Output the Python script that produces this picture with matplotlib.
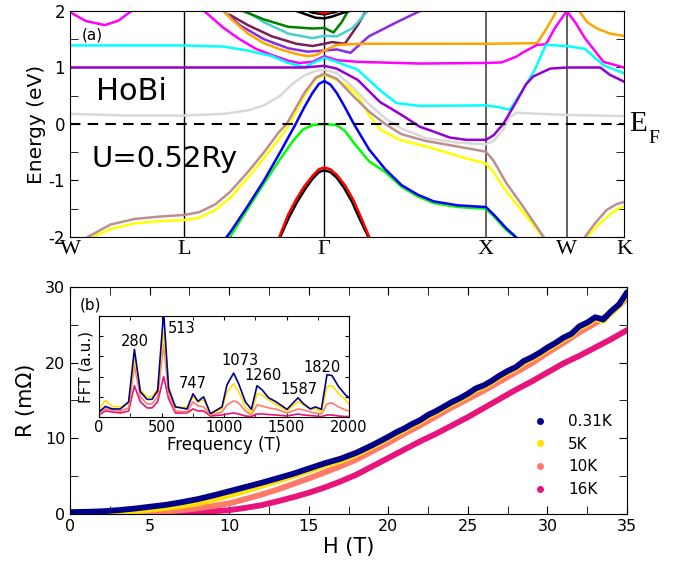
import numpy as np
import matplotlib
matplotlib.use('Agg')
import matplotlib.pyplot as plt
from matplotlib.ticker import MultipleLocator
from matplotlib.lines import Line2D

plt.rc('font', family='DejaVu Sans', size=11)
plt.rc('axes', unicode_minus=False)

# ---- (a) band structure: high-symmetry points (2pi/a)
k_ticks = [0.0, 0.707, 1.573, 2.573, 3.073, 3.427]
k_names = ['W', 'L', r'Γ', 'X', 'W', 'K']

blue_k = [0.969, 1.0, 1.1, 1.2, 1.3, 1.396, 1.45, 1.5, 1.54, 1.573, 1.61, 1.65, 1.7, 1.756, 1.85, 1.95,
          2.05, 2.15, 2.25, 2.4, 2.573, 2.62, 2.7, 2.758]
blue_e = [-2.0, -1.88, -1.45, -1.0, -0.5, 0.0, 0.3, 0.55, 0.71, 0.76, 0.70, 0.55, 0.3, 0.0, -0.45, -0.8,
          -1.08, -1.25, -1.37, -1.44, -1.47, -1.6, -1.85, -2.0]
green_k = [0.99, 1.1, 1.2, 1.3, 1.38, 1.44, 1.5, 1.573, 1.65, 1.7, 1.76, 1.85, 1.95, 2.05, 2.15, 2.25,
           2.4, 2.573, 2.62, 2.7, 2.755]
green_e = [-2.0, -1.5, -1.05, -0.62, -0.3, -0.1, -0.02, 0.0, -0.02, -0.12, -0.35, -0.66, -0.85, -1.11,
           -1.28, -1.40, -1.47, -1.5, -1.63, -1.88, -2.0]
red_k = [1.295, 1.35, 1.40, 1.45, 1.5, 1.54, 1.573, 1.61, 1.65, 1.7, 1.75, 1.80, 1.851]
red_e = [-2.0, -1.6, -1.33, -1.1, -0.92, -0.8, -0.77, -0.8, -0.9, -1.08, -1.33, -1.65, -2.0]
black_k = [1.30, 1.355, 1.405, 1.455, 1.5, 1.54, 1.573, 1.61, 1.65, 1.695, 1.745, 1.795, 1.846]
black_e = [-2.0, -1.65, -1.38, -1.15, -0.97, -0.85, -0.82, -0.85, -0.95, -1.13, -1.38, -1.7, -2.0]
yellow_k = [0.14, 0.25, 0.4, 0.55, 0.707, 0.8, 0.9, 0.99, 1.1, 1.2, 1.297, 1.36, 1.45, 1.52, 1.573,
            1.65, 1.72, 1.78, 1.85, 1.92, 2.04, 2.245, 2.45, 2.573, 2.62, 2.7, 2.8, 2.926]
yellow_e = [-2.0, -1.86, -1.76, -1.72, -1.70, -1.66, -1.52, -1.31, -0.95, -0.6, -0.25, 0.0, 0.5, 0.8, 0.87,
            0.78, 0.66, 0.5, 0.16, -0.1, -0.28, -0.43, -0.61, -0.70, -0.85, -1.2, -1.55, -2.0]
yellow2_k = [3.2, 3.27, 3.34, 3.39, 3.427]
yellow2_e = [-2.0, -1.78, -1.6, -1.5, -1.46]
brown_k = [0.11, 0.25, 0.4, 0.55, 0.707, 0.8, 0.9, 0.99, 1.1, 1.2, 1.29, 1.34, 1.45, 1.52, 1.573,
           1.65, 1.75, 1.85, 1.95, 2.05, 2.2, 2.4, 2.573, 2.62, 2.7, 2.8, 2.93]
brown_e = [-2.0, -1.78, -1.68, -1.64, -1.61, -1.56, -1.42, -1.2, -0.85, -0.5, -0.15, 0.0, 0.55, 0.82, 0.89,
           0.8, 0.5, 0.22, 0.0, -0.18, -0.3, -0.4, -0.49, -0.65, -1.05, -1.45, -2.0]
brown2_k = [3.185, 3.25, 3.32, 3.38, 3.427]
brown2_e = [-2.0, -1.75, -1.52, -1.42, -1.38]
gray_k = [0, 0.35, 0.707, 0.95, 1.1, 1.2, 1.3, 1.38, 1.45, 1.52, 1.573, 1.65, 1.75, 1.85, 1.95, 2.05,
          2.2, 2.4, 2.573, 2.62, 2.68, 2.72, 2.76, 2.9, 3.073, 3.427]
gray_e = [0.18, 0.15, 0.15, 0.18, 0.24, 0.33, 0.5, 0.72, 0.86, 0.94, 0.96, 0.9, 0.65, 0.35, 0.1, -0.08,
          -0.25, -0.33, -0.36, -0.3, -0.1, 0.12, 0.2, 0.18, 0.16, 0.14]
purple_k = [0, 0.707, 1.2, 1.45, 1.573, 1.65, 1.78, 1.917, 2.04, 2.165, 2.245, 2.35, 2.45, 2.573, 2.62,
            2.68, 2.76, 2.82, 2.865, 2.97, 3.073, 3.28, 3.34, 3.427]
purple_e = [1.0, 1.0, 1.0, 1.0, 1.03, 0.98, 0.78, 0.39, 0.18, -0.05, -0.13, -0.24, -0.28, -0.28, -0.2,
            0.0, 0.39, 0.7, 0.84, 0.98, 1.0, 1.0, 0.87, 0.75]
cyan_k = [0, 0.707, 0.95, 1.1, 1.25, 1.35, 1.45, 1.52, 1.573, 1.65, 1.78, 1.917, 2.02, 2.165, 2.573,
          2.65, 2.72, 2.8, 2.87, 2.944, 3.073, 3.185, 3.3, 3.427]
cyan_e = [1.39, 1.39, 1.37, 1.3, 1.2, 1.08, 1.01, 1.1, 1.17, 1.1, 0.96, 0.6, 0.37, 0.32, 0.33,
          0.3, 0.25, 0.6, 0.93, 1.4, 1.38, 1.33, 1.04, 0.9]
magenta1_k = [0, 0.1, 0.216, 0.3, 0.38]
magenta1_e = [1.98, 1.82, 1.75, 1.83, 2.0]
magenta2_k = [0.83, 0.95, 1.05, 1.15, 1.25, 1.35, 1.42, 1.5, 1.573, 1.65, 1.78, 2.165, 2.573, 2.67,
              2.76, 2.81, 2.89, 2.944, 3.0, 3.073, 3.13, 3.185, 3.3, 3.427]
magenta2_e = [2.0, 1.7, 1.5, 1.33, 1.22, 1.12, 1.08, 1.1, 1.2, 1.13, 1.1, 1.07, 1.08, 1.09,
              1.19, 1.28, 1.40, 1.41, 1.7, 2.0, 1.78, 1.52, 1.1, 1.0]
orange1_k = [0.95, 1.0, 1.1, 1.2, 1.3, 1.4, 1.47, 1.52, 1.573, 1.65, 1.8, 2.573, 2.89, 2.95, 3.01]
orange1_e = [2.0, 1.85, 1.6, 1.43, 1.32, 1.24, 1.2, 1.22, 1.3, 1.4, 1.42, 1.42, 1.43, 1.7, 2.0]
orange2_k = [3.15, 3.2, 3.26, 3.34, 3.427]
orange2_e = [2.0, 1.8, 1.69, 1.6, 1.56]
violet_k = [0.95, 1.05, 1.2, 1.35, 1.47, 1.573, 1.65, 1.735, 1.848, 2.02, 2.165]
violet_e = [2.0, 1.75, 1.5, 1.34, 1.28, 1.3, 1.32, 1.26, 1.55, 1.8, 2.0]
maroon_k = [0.99, 1.1, 1.25, 1.4, 1.5, 1.573, 1.62, 1.7, 1.78, 1.83]
maroon_e = [1.93, 1.75, 1.55, 1.42, 1.38, 1.42, 1.45, 1.42, 1.75, 2.0]
turq_k = [1.09, 1.2, 1.35, 1.5, 1.573, 1.65, 1.75, 1.84]
turq_e = [2.0, 1.8, 1.6, 1.52, 1.56, 1.55, 1.7, 2.0]
dgreen_k = [1.07, 1.2, 1.35, 1.5, 1.573, 1.63, 1.68, 1.72]
dgreen_e = [2.0, 1.85, 1.72, 1.69, 1.7, 1.62, 1.8, 2.0]
topblack1_k = [1.4, 1.47, 1.52, 1.573, 1.62, 1.68, 1.73]
topblack1_e = [2.0, 1.93, 1.88, 1.87, 1.9, 1.96, 2.0]
topblack2_k = [1.43, 1.5, 1.573, 1.64, 1.7]
topblack2_e = [2.05, 1.97, 1.94, 1.98, 2.05]
topred_k = [1.52, 1.573, 1.62]
topred_e = [2.0, 1.96, 2.0]

# ---- (b) magnetoresistance
H_fine = [0, 1, 2, 3, 4, 5, 6, 7, 8, 9, 10, 11, 12, 13, 14, 15, 16, 17, 18, 19, 20, 20.5, 21, 21.5, 22,
          22.5, 23, 23.5, 24, 24.5, 25, 25.5, 26, 26.5, 27, 27.5, 28, 28.5, 29, 29.5, 30, 30.5, 31, 31.5,
          32, 32.5, 33, 33.5, 34, 34.5, 35]
R_031K = [0.25, 0.28, 0.35, 0.5, 0.7, 0.95, 1.2, 1.55, 1.95, 2.45, 3.0, 3.55, 4.1, 4.7, 5.3, 6.0, 6.7, 7.3,
          8.1, 9.1, 10.2, 10.8, 11.3, 11.9, 12.4, 13.1, 13.6, 14.2, 14.8, 15.3, 15.9, 16.6, 17.0, 17.6,
          18.3, 18.9, 19.4, 20.2, 20.7, 21.3, 22.0, 22.6, 23.3, 23.8, 24.8, 25.3, 26.0, 25.7, 26.8, 27.7, 29.3]
R_5K = [0.1, 0.1, 0.12, 0.2, 0.35, 0.55, 0.8, 1.05, 1.4, 1.9, 2.45, 3.05, 3.7, 4.35, 5.0, 5.7, 6.4, 7.0,
        7.85, 8.9, 10.0, 10.6, 11.1, 11.7, 12.2, 12.9, 13.4, 14.0, 14.6, 15.1, 15.7, 16.4, 16.8, 17.4,
        18.1, 18.7, 19.2, 20.0, 20.5, 21.1, 21.8, 22.4, 23.1, 23.6, 24.6, 25.1, 25.8, 25.5, 26.6, 27.5, 29.0]
H_coarse = list(range(0, 36))
R_10K = [0.15, 0.12, 0.1, 0.1, 0.12, 0.2, 0.32, 0.5, 0.75, 1.05, 1.4, 1.95, 2.55, 3.2, 3.95, 4.7, 5.5, 6.3,
         7.2, 8.3, 9.4, 10.6, 11.7, 12.9, 14.1, 15.2, 16.3, 17.5, 18.7, 19.9, 21.3, 22.6, 24.0, 25.2, 26.6, 28.5]
R_16K = [0.15, 0.1, 0.05, 0.05, 0.05, 0.05, 0.08, 0.12, 0.2, 0.35, 0.5, 0.8, 1.15, 1.65, 2.2, 2.8, 3.5, 4.3,
         5.2, 6.3, 7.4, 8.5, 9.6, 10.6, 11.7, 12.8, 14.0, 15.2, 16.4, 17.5, 18.7, 19.9, 20.9, 22.0, 23.1, 24.3]

# ---- inset FFT spectra
freq = [0, 51, 104, 171, 237, 283, 331, 384, 424, 469, 517, 557, 611, 704, 752, 792, 837, 891, 984, 1024,
        1077, 1117, 1171, 1219, 1264, 1304, 1357, 1411, 1504, 1592, 1637, 1691, 1731, 1779, 1824, 1864,
        1917, 1971, 2000]
fft_031K = [5, 10.5, 8, 8, 15, 67, 25, 17.5, 17.5, 26, 104, 28, 10, 8, 23, 15.5, 20, 3.3, 10, 32,
            43.5, 33, 15, 7.6, 31, 27, 19, 15.5, 7.6, 19, 13, 8, 10, 7.6, 42, 41, 30, 22, 19]
fft_5K = [8, 16.5, 10.5, 10, 14, 58, 27, 20, 20, 28, 84, 30, 10, 9.5, 20, 15, 17, 3, 8, 25,
          33, 25, 10, 4, 23, 22, 17, 13, 6, 15, 12, 8, 8, 5, 30, 31, 23, 17, 13]
fft_10K = [3, 8, 7, 6, 9, 51, 20, 13, 13, 20, 72, 22, 6, 5, 15, 11, 10, 2, 5, 12,
           16, 14, 6, 2, 12, 11, 9, 8, 4, 8, 7, 5, 4, 3, 13, 14, 10, 7, 6]
fft_16K = [2, 6, 5, 4, 6, 31, 15, 9, 9, 15, 40, 18, 4, 4, 8, 6, 6, 1, 2, 3,
           4, 3, 1, 0.5, 3, 3, 2.5, 2, 1, 3, 2, 1.5, 1, 0.5, 2, 2, 1, 0.5, 0.5]
peak_f = [280, 513, 747, 1073, 1260, 1587, 1820]
peak_pos = [(288, 75), (550, 88), (748, 33), (1124, 56), (1315, 41), (1600, 27), (1785, 49.5)]

temps = ['0.31K', '5K', '10K', '16K']
tcolors = ['#00008B', '#FFE100', '#FF7A6A', '#E8137B']

fig = plt.figure(figsize=(6.81, 5.64), dpi=100)

# ---------------- panel (a)
ax1 = fig.add_axes([0.1028, 0.5798, 0.8135, 0.4007])
bands = [
    (maroon_k, maroon_e, '#7A1E5A'), (violet_k, violet_e, '#8A2BE2'), (turq_k, turq_e, '#48D1CC'),
    (dgreen_k, dgreen_e, '#008000'), (topblack1_k, topblack1_e, 'k'), (topblack2_k, topblack2_e, 'k'),
    (topred_k, topred_e, 'r'), (orange1_k, orange1_e, '#FFA500'), (orange2_k, orange2_e, '#FFA500'),
    (magenta1_k, magenta1_e, '#FF00FF'), (magenta2_k, magenta2_e, '#FF00FF'), (cyan_k, cyan_e, '#00FFFF'),
    (gray_k, gray_e, '#D9D9D9'), (purple_k, purple_e, '#9400D3'),
    (yellow_k, yellow_e, '#FFFF00'), (yellow2_k, yellow2_e, '#FFFF00'),
    (brown_k, brown_e, '#BC8F8F'), (brown2_k, brown2_e, '#BC8F8F'),
    (green_k, green_e, '#00FF00'), (blue_k, blue_e, '#0000FF'),
    (black_k, black_e, 'k'), (red_k, red_e, '#FF0000'),
]
for kk, ee, c in bands:
    ax1.plot(kk, ee, color=c, lw=1.8, solid_joinstyle='round')
for kv in k_ticks[1:5]:
    ax1.axvline(kv, color='k' if kv < 2 else '#555555', lw=1.0 if kv < 2 else 1.3, zorder=0)
ax1.axhline(0, color='k', ls='--', lw=1.5, dashes=(5, 3.5))
ax1.set_xlim(0, 3.427)
ax1.set_ylim(-2, 2)
ax1.set_xticks(k_ticks)
ax1.set_xticklabels(k_names, fontfamily='Liberation Serif', fontsize=16)
ax1.tick_params(axis='x', length=0, pad=2)
ax1.set_yticks([-2, -1, 0, 1, 2])
ax1.yaxis.set_minor_locator(MultipleLocator(0.5))
ax1.tick_params(axis='y', which='both', direction='in', right=True, labelsize=12)
ax1.tick_params(axis='y', which='major', length=6)
ax1.tick_params(axis='y', which='minor', length=6)
ax1.set_ylabel('Energy (eV)', fontsize=14.5, labelpad=2)
ax1.text(0.07, 1.58, '(a)', fontsize=11, va='center')
ax1.text(0.16, 0.58, 'HoBi', fontsize=22, va='center')
ax1.text(0.13, -0.62, 'U=0.52Ry', fontsize=21, va='center')
ax1.text(3.46, 0.0, 'E', fontsize=21, fontfamily='Liberation Serif', va='center', clip_on=False)
ax1.text(3.575, -0.25, 'F', fontsize=14, fontfamily='Liberation Serif', va='center', clip_on=False)

# ---------------- panel (b)
ax2 = fig.add_axes([0.1028, 0.0887, 0.818, 0.4025])
ax2.plot(H_coarse, R_16K, color=tcolors[3], lw=4.2, solid_capstyle='round')
ax2.plot(H_coarse, R_10K, color=tcolors[2], lw=4.2, solid_capstyle='round')
ax2.plot(H_fine, R_5K, color=tcolors[1], lw=4.2, solid_capstyle='round')
ax2.plot(H_fine, R_031K, color=tcolors[0], lw=4.2, solid_capstyle='round')
ax2.set_xlim(0, 35)
ax2.set_ylim(0, 30)
ax2.xaxis.set_major_locator(MultipleLocator(5))
ax2.xaxis.set_minor_locator(MultipleLocator(2.5))
ax2.yaxis.set_major_locator(MultipleLocator(10))
ax2.yaxis.set_minor_locator(MultipleLocator(5))
ax2.tick_params(which='both', direction='in', top=True, right=True, labelsize=11.5)
ax2.tick_params(which='major', length=6)
ax2.tick_params(which='minor', length=6)
ax2.set_xlabel('H (T)', fontsize=15, labelpad=2)
ax2.set_ylabel(u'R (m\u03A9)', fontsize=15, labelpad=6)
ax2.text(0.018, 0.9, '(b)', transform=ax2.transAxes, fontsize=11)

handles = [Line2D([], [], ls='none', marker='o', ms=4, color=c) for c in tcolors]
ax2.legend(handles, temps, loc='upper left', bbox_to_anchor=(0.806, 0.467), frameon=False,
           fontsize=11, borderaxespad=0, handletextpad=0.8, labelspacing=0.5)

# ---------------- inset
ax3 = fig.add_axes([0.1454, 0.2606, 0.3671, 0.1791])
ax3.plot(freq, fft_16K, color=tcolors[3], lw=1.2)
ax3.plot(freq, fft_10K, color=tcolors[2], lw=1.2)
ax3.plot(freq, fft_5K, color=tcolors[1], lw=1.2)
ax3.plot(freq, fft_031K, color=tcolors[0], lw=1.2)
ax3.set_xlim(0, 2000)
ax3.set_ylim(0, 100)
ax3.xaxis.set_major_locator(MultipleLocator(500))
ax3.xaxis.set_minor_locator(MultipleLocator(250))
ax3.set_yticks([0, 20, 40, 60, 80, 100])
ax3.set_yticklabels([])
ax3.tick_params(which='both', direction='in', top=True, right=True, labelsize=10.5, length=3, pad=2)
ax3.set_xlabel('Frequency (T)', fontsize=12, labelpad=1)
ax3.set_ylabel('FFT (a.u.)', fontsize=11, labelpad=2)
for f, (px, py) in zip(peak_f, peak_pos):
    ha = 'left' if f == 513 else 'center'
    ax3.text(px, py, str(f), fontsize=10.5, ha=ha, va='center')

fig.savefig('out.png', dpi=100)
